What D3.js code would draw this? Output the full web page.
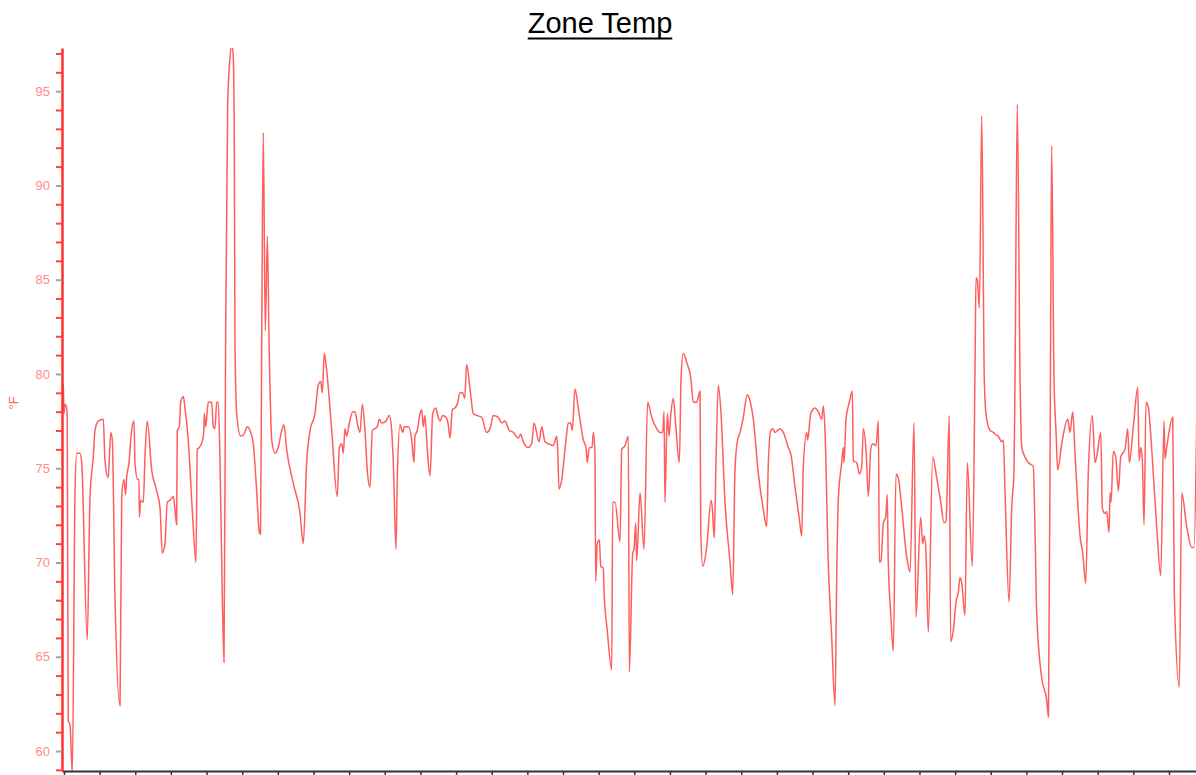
<!DOCTYPE html>
<html>
<head>
<meta charset="utf-8">
<script src="https://cdn.jsdelivr.net/npm/d3@7"></script>
<style>
  body { margin: 0; background: #fff; }
  text { font-family: "Liberation Sans", Arial, sans-serif; }
</style>
</head>
<body>
<div class="chart"></div>
<script>
// minutes since start of the log, one tick every 6 hours
const minutes = [
  -20, -7, 0, 10, 27, 33, 43, 61, 84, 111,
  128, 162, 179, 235, 263, 296, 313, 346, 397, 414,
  447, 472, 488, 515, 566, 583, 606, 623, 633, 657,
  677, 707, 717, 744, 758, 761, 775, 801, 818, 841,
  886, 936, 970, 993, 1020, 1043, 1071, 1104, 1121, 1138,
  1144, 1165, 1179, 1205, 1222, 1255, 1300, 1333, 1346, 1367,
  1401, 1414, 1417, 1431, 1457, 1492, 1508, 1525, 1542, 1558,
  1576, 1599, 1616, 1633, 1653, 1677, 1694, 1710, 1720, 1727,
  1744, 1785, 1818, 1851, 1879, 1912, 1946, 1973, 1985, 1997,
  2013, 2033, 2054, 2071, 2098, 2131, 2164, 2199, 2222, 2249,
  2316, 2384, 2417, 2451, 2485, 2535, 2568, 2593, 2609, 2629,
  2653, 2704, 2760, 2781, 2805, 2821, 2838, 2855, 2882, 2916,
  2939, 2962, 2990, 3013, 3040, 3063, 3091, 3114, 3141, 3164,
  3184, 3209, 3252, 3285, 3310, 3326, 3353, 3366, 3394, 3421,
  3437, 3477, 3512, 3535, 3545, 3568, 3596, 3613, 3629, 3646,
  3669, 3697, 3724, 3754, 3780, 3798, 3825, 3858, 3881, 3899,
  3922, 3949, 3972, 4000, 4027, 4047, 4067, 4101, 4134, 4168,
  4219, 4269, 4303, 4336, 4386, 4421, 4454, 4498, 4538, 4588,
  4613, 4639, 4690, 4724, 4747, 4798, 4825, 4858, 4891, 4942,
  4976, 4986, 5000, 5027, 5070, 5093, 5118, 5134, 5161, 5194,
  5245, 5272, 5285, 5306, 5333, 5346, 5363, 5370, 5386, 5407,
  5421, 5447, 5454, 5487, 5532, 5542, 5565, 5616, 5633, 5666,
  5700, 5710, 5744, 5757, 5774, 5784, 5818, 5858, 5895, 5936,
  5986, 6020, 6047, 6060, 6070, 6093, 6111, 6128, 6154, 6178,
  6215, 6232, 6255, 6290, 6330, 6356, 6390, 6424, 6431, 6451,
  6491, 6535, 6548, 6568, 6585, 6608, 6636, 6676, 6727, 6754,
  6777, 6800, 6828, 6861, 6901, 6922, 6962, 7013, 7063, 7097,
  7114, 7138, 7158, 7181, 7232, 7265, 7315, 7343, 7383, 7427,
  7451, 7467, 7501, 7511, 7542, 7585, 7618, 7653, 7669, 7686,
  7719, 7754, 7787, 7804, 7820, 7855, 7871, 7878, 7898, 7932,
  7962, 7972, 8006, 8033, 8057, 8073, 8100, 8124, 8148, 8168,
  8201, 8225, 8235, 8252, 8275, 8299, 8315, 8325, 8350, 8376,
  8403, 8426, 8461, 8511, 8545, 8585, 8605, 8652, 8673, 8689,
  8706, 8729, 8774, 8814, 8855, 8888, 8908, 8941, 8955, 8982,
  9009, 9032, 9050, 9067, 9100, 9123, 9174, 9201, 9211, 9224,
  9245, 9269, 9295, 9312, 9353, 9386, 9403, 9436, 9471, 9487,
  9504, 9545, 9572, 9595, 9605, 9628, 9656, 9673, 9706, 9739,
  9790, 9807, 9824, 9874, 9925, 9943, 9965, 9975, 9999, 10019,
  10036, 10077, 10137, 10161, 10188, 10211, 10262, 10289, 10319, 10346,
  10386, 10413, 10430, 10471, 10487, 10514, 10531, 10555, 10565, 10575,
  10598, 10622, 10649, 10673, 10716, 10743, 10760, 10800, 10845, 10858,
  10875, 10891, 10908, 10928, 10952, 10986, 11036, 11077, 11110, 11120,
  11137, 11198, 11214, 11264, 11289, 11339, 11389, 11413, 11440
];

// zone temperature, deg F
const zoneTemp = [
  77.0, 79.5, 77.9, 78.4, 78.2, 77.6, 61.6, 61.4, 58.8, 73.5,
  75.8, 75.8, 75.3, 65.9, 73.5, 75.6, 77.0, 77.5, 77.6, 75.4,
  74.5, 76.9, 76.5, 68.2, 62.4, 73.5, 74.4, 73.6, 74.5, 75.3,
  76.7, 77.5, 75.3, 74.4, 74.4, 72.4, 73.3, 73.2, 75.6, 77.5,
  74.9, 73.8, 72.9, 70.5, 71.0, 73.2, 73.3, 73.5, 72.8, 72.0,
  77.0, 77.2, 78.5, 78.8, 78.2, 76.5, 72.4, 70.0, 76.0, 76.1,
  76.5, 77.2, 77.9, 77.2, 78.5, 78.5, 77.2, 77.1, 78.5, 78.5,
  75.3, 68.2, 64.7, 82.3, 94.2, 96.8, 97.5, 96.8, 92.4, 81.8,
  77.9, 76.7, 76.8, 77.2, 77.0, 76.3, 73.8, 71.6, 71.5, 81.8,
  92.8, 82.3, 87.3, 81.8, 76.5, 75.8, 76.1, 77.0, 77.3, 76.0,
  74.2, 72.6, 71.0, 75.3, 77.0, 77.9, 79.4, 79.6, 79.0, 81.1,
  80.2, 77.0, 73.5, 76.1, 76.3, 75.8, 77.1, 76.7, 77.4, 78.0,
  78.0, 77.4, 76.9, 78.4, 77.0, 74.9, 74.0, 77.0, 77.1, 77.2,
  77.6, 77.4, 77.5, 77.8, 77.0, 75.3, 70.7, 74.4, 77.3, 76.9,
  77.2, 77.2, 76.5, 75.3, 76.7, 77.0, 77.9, 78.1, 77.2, 77.8,
  76.0, 74.6, 77.9, 78.2, 77.7, 77.5, 77.8, 77.7, 77.3, 76.6,
  78.1, 78.2, 78.4, 79.0, 79.0, 78.7, 80.5, 79.2, 77.9, 77.8,
  77.7, 76.9, 77.1, 77.8, 77.7, 77.4, 77.5, 77.0, 76.9, 76.6,
  76.8, 76.4, 76.1, 76.3, 77.4, 76.4, 77.2, 76.4, 76.3, 76.2,
  76.7, 76.0, 73.9, 74.4, 76.5, 77.4, 77.4, 77.0, 79.2, 78.2,
  76.5, 76.1, 75.3, 76.1, 76.1, 76.9, 75.8, 69.0, 71.0, 71.2,
  69.8, 69.7, 68.5, 66.4, 64.3, 73.2, 73.2, 71.1, 76.0, 76.2,
  76.7, 64.2, 70.5, 70.7, 72.1, 70.1, 73.7, 70.7, 78.5, 77.7,
  77.1, 76.9, 76.9, 78.0, 73.2, 77.9, 76.7, 77.8, 78.7, 77.3,
  75.3, 79.7, 81.1, 80.6, 79.8, 78.5, 78.5, 79.1, 71.7, 69.8,
  70.8, 73.3, 72.9, 71.3, 75.3, 79.4, 77.9, 73.2, 70.0, 68.3,
  74.9, 76.4, 76.9, 77.7, 78.9, 78.7, 77.6, 74.7, 72.8, 71.9,
  75.3, 77.0, 77.1, 76.9, 77.1, 76.9, 76.1, 75.7, 74.0, 72.3,
  71.4, 75.1, 76.9, 76.5, 77.9, 78.2, 78.0, 77.6, 78.3, 77.0,
  70.0, 66.0, 62.4, 69.1, 73.3, 75.3, 76.1, 75.3, 77.6, 78.5,
  79.1, 75.4, 75.3, 74.7, 75.1, 77.1, 76.0, 73.5, 76.0, 76.3,
  76.2, 77.5, 70.0, 70.1, 72.1, 72.4, 73.6, 70.0, 67.3, 65.3,
  74.7, 74.5, 72.9, 70.3, 69.5, 77.4, 67.1, 72.4, 71.0, 71.4,
  70.5, 66.3, 75.6, 74.5, 73.2, 72.1, 72.2, 77.8, 65.8, 66.4,
  67.9, 68.4, 69.2, 68.9, 67.2, 75.3, 69.8, 80.2, 85.1, 85.0,
  83.5, 93.7, 79.7, 77.9, 77.0, 76.9, 76.8, 76.7, 76.4, 76.5,
  73.8, 67.9, 72.9, 74.9, 79.7, 94.3, 79.7, 76.1, 75.6, 75.3,
  75.1, 71.7, 67.3, 63.9, 62.7, 61.8, 82.3, 92.1, 79.7, 77.0,
  74.9, 76.3, 77.6, 76.9, 78.0, 75.8, 71.4, 70.5, 68.9, 74.9,
  77.8, 75.3, 75.6, 76.9, 72.9, 72.6, 72.7, 71.6, 73.7, 73.2,
  75.9, 75.6, 73.8, 75.6, 76.0, 77.1, 75.3, 77.2, 79.3, 75.4,
  76.1, 75.4, 72.0, 78.5, 78.2, 76.0, 71.9, 69.3, 77.5, 75.5,
  76.1, 77.7, 68.4, 63.4, 73.7, 71.9, 70.8, 70.8, 77.5
];

const xTicks = d3.range(0, 11434, 360);
const yTicks = d3.range(59, 98);
const title = "Zone Temp";
const unitLabel = "°F";

const width = 1196, height = 775;
const plotLeft = 62, plotRight = 1196, plotTop = 48, plotBottom = 771;

svg = d3.select(".chart").append("svg")
  .attr("width", width)
  .attr("height", height);

const x = d3.scaleLinear().domain([-20, 11433]).range([plotLeft, plotRight]);
const y = d3.scaleLinear().domain([58.94, 97.29]).range([plotBottom, plotTop]);

svg.append("clipPath")
  .attr("id", "plot")
  .append("rect")
  .attr("x", plotLeft)
  .attr("y", plotTop)
  .attr("width", plotRight - plotLeft)
  .attr("height", plotBottom - plotTop);

// title, underlined
const t = svg.append("text")
  .attr("x", 600)
  .attr("y", 33)
  .attr("text-anchor", "middle")
  .attr("font-size", 29)
  .attr("fill", "#000")
  .text(title);
const tw = t.node().getComputedTextLength();
svg.append("line")
  .attr("x1", 600 - tw / 2)
  .attr("x2", 600 + tw / 2)
  .attr("y1", 38.5)
  .attr("y2", 38.5)
  .attr("stroke", "#000")
  .attr("stroke-width", 2);

// the line
const points = d3.zip(minutes, zoneTemp);
const line = d3.line()
  .curve(d3.curveMonotoneX)
  .x(d => x(d[0]))
  .y(d => y(d[1]));
svg.append("path")
  .datum(points)
  .attr("clip-path", "url(#plot)")
  .attr("d", line)
  .attr("fill", "none")
  .attr("stroke", "#ff1a1a")
  .attr("stroke-opacity", 0.7)
  .attr("stroke-width", 1.5)
  .attr("stroke-linejoin", "round");

// x axis, ticks only
const xAxis = svg.append("g")
  .attr("transform", "translate(0," + plotBottom + ")")
  .call(d3.axisBottom(x).tickValues(xTicks).tickFormat("").tickSize(6).tickSizeOuter(0));
xAxis.select(".domain").attr("stroke", "#333").attr("stroke-width", 2);
xAxis.selectAll(".tick line").attr("stroke", "#333").attr("stroke-width", 1.5);

// y axis
const yAxis = svg.append("g")
  .attr("transform", "translate(" + plotLeft + ",0)")
  .call(d3.axisLeft(y).tickValues(yTicks)
    .tickFormat(d => d % 5 === 0 ? d : "")
    .tickSize(6).tickPadding(6).tickSizeOuter(0));
yAxis.select(".domain").attr("stroke", "#ff3030").attr("stroke-width", 2.5);
yAxis.selectAll(".tick line")
  .attr("stroke", d => d % 5 === 0 ? "#9aab94" : "#ff4040")
  .attr("stroke-width", 2);
yAxis.selectAll(".tick text")
  .attr("fill", "#ff8c8c")
  .attr("font-size", 13)
  .attr("font-family", "'Liberation Sans', Arial, sans-serif");

svg.append("text")
  .attr("transform", "translate(18," + 403 + ") rotate(-90)")
  .attr("text-anchor", "middle")
  .attr("font-size", 13)
  .attr("fill", "#ff6060")
  .text(unitLabel);
</script>
</body>
</html>
